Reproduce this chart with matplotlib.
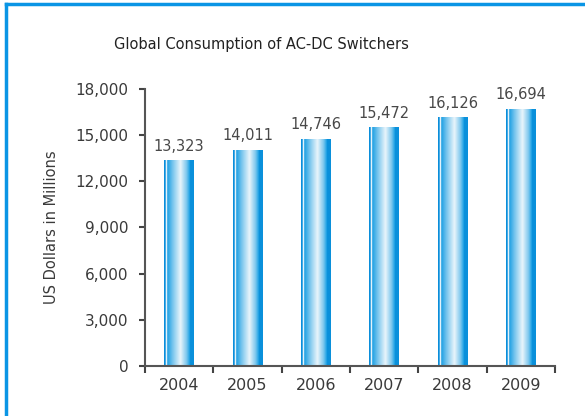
import numpy as np
import matplotlib
matplotlib.use("Agg")
import matplotlib.pyplot as plt
from matplotlib.colors import LinearSegmentedColormap
from matplotlib.lines import Line2D

years = ["2004", "2005", "2006", "2007", "2008", "2009"]
values = [13323, 14011, 14746, 15472, 16126, 16694]
y_ticks = [0, 3000, 6000, 9000, 12000, 15000, 18000]

title = "Global Consumption of AC-DC Switchers"
ylabel = "US Dollars in Millions"

plt.rcParams["font.family"] = ["DejaVu Sans"]

fig = plt.figure(figsize=(5.85, 4.16), dpi=100)
ax = fig.add_axes([0.2479, 0.1202, 0.7008, 0.6659])

x = np.arange(len(years))
bars = ax.bar(x, values, width=0.43, color="none", edgecolor="none")

# horizontal cylinder-style shading for each bar
shade = LinearSegmentedColormap.from_list(
    "shade",
    [
        (0.00, "#0a8edb"),
        (0.055, "#0a8edb"),
        (0.06, "#ffffff"),
        (0.10, "#ffffff"),
        (0.105, "#1a9ee3"),
        (0.30, "#7cc7ee"),
        (0.55, "#e9f5fb"),
        (0.75, "#7fc8ee"),
        (0.86, "#1da2e5"),
        (0.87, "#0a90db"),
        (1.00, "#0a90db"),
    ],
)
grad = np.linspace(0, 1, 256).reshape(1, -1)
for b in bars:
    x0, y0 = b.get_x(), b.get_y()
    w, h = b.get_width(), b.get_height()
    ax.imshow(grad, cmap=shade, aspect="auto", interpolation="bilinear",
              extent=(x0, x0 + w, y0, y0 + h), zorder=2)

ax.set_xlim(-0.5, len(years) - 0.5)
ax.set_ylim(0, 18000)

for xi, v in zip(x, values):
    ax.text(xi, v + 450, f"{v:,}", ha="center", va="bottom",
            fontsize=10.5, color="#484848")

ax.set_yticks(y_ticks)
ax.set_yticklabels([f"{t:,}" for t in y_ticks])
ax.set_xticks(x)
ax.set_xticklabels(years)
ax.set_xticks(np.arange(-0.5, len(years)), minor=True)

ax.tick_params(axis="y", which="major", length=4, width=1.5, color="#444444",
               labelsize=11, labelcolor="#3a3a3a", pad=8)
ax.tick_params(axis="x", which="major", length=0, labelsize=11.5,
               labelcolor="#3a3a3a", pad=9)
ax.tick_params(axis="x", which="minor", length=5, width=1.5, color="#444444")

for side in ("top", "right"):
    ax.spines[side].set_visible(False)
for side in ("left", "bottom"):
    ax.spines[side].set_color("#555555")
    ax.spines[side].set_linewidth(1.5)

ax.set_ylabel(ylabel, fontsize=10.5, color="#3a3a3a", labelpad=12)

fig.text(261 / 585, 1 - 44 / 416, title, ha="center", va="center",
         fontsize=10.5, color="#222222")

# blue frame along the top and left edges
frame_color = "#0a95e5"
fig.add_artist(Line2D([6 / 585, 1.0], [1 - 3.5 / 416, 1 - 3.5 / 416],
                      transform=fig.transFigure, color=frame_color, lw=2.5))
fig.add_artist(Line2D([6 / 585, 6 / 585], [0.0, 1 - 3.5 / 416],
                      transform=fig.transFigure, color=frame_color, lw=2.5))

fig.savefig("out.png", dpi=100)
